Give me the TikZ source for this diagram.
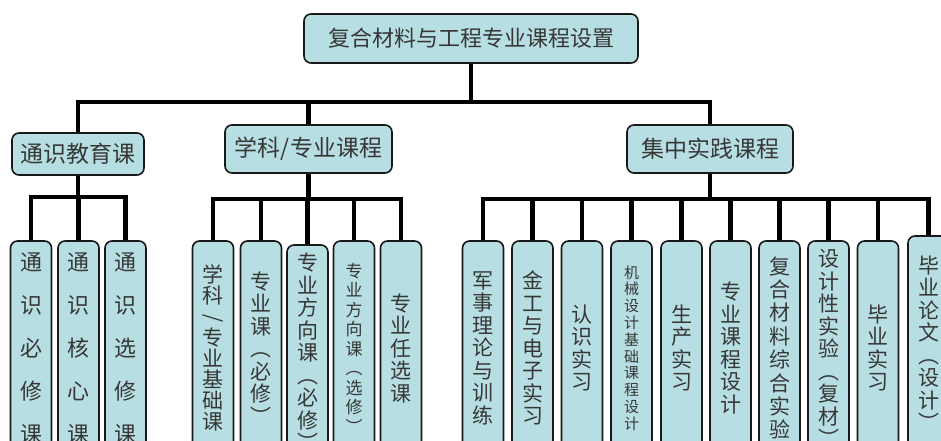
\documentclass[tikz,border=0pt]{standalone}
\usepackage{fontspec}
\usepackage{xcolor}
\newfontfamily\cjk{Noto Sans CJK SC}
\definecolor{boxfill}{RGB}{183,222,226}
\definecolor{ink}{RGB}{55,55,55}

\begin{document}
\begin{tikzpicture}[x=1pt,y=-1pt,
  box/.style={draw=black!90,line width=1.6pt,fill=boxfill,rounded corners=7pt,text=ink,inner sep=0pt,align=center},
  head/.style={box,font=\cjk\fontsize{23}{26}\selectfont},
  leaf/.style={box,minimum width=41pt,minimum height=214pt,font=\cjk\fontsize{21}{22.5}\selectfont},
  link/.style={line width=4.5pt}]
  \useasboundingbox (0,0) rectangle (941,441);
  \clip (0,0) rectangle (941,441);
  % top and second level
  \node[head,font=\cjk\fontsize{22}{26}\selectfont,minimum width=334pt,minimum height=49pt] (root) at (471,38.5) {复合材料与工程专业课程设置};
  \node[head,minimum width=132pt,minimum height=42pt] (gen) at (78,154) {通识教育课};
  \node[head,minimum width=167pt,minimum height=48pt] (disc) at (308.5,149) {学科/专业课程};
  \node[head,minimum width=166pt,minimum height=48pt] (prac) at (710,149) {集中实践课程};
  % general education
  \node[leaf,font=\cjk\fontsize{22}{43}\selectfont] (g1) at (31,348) {通\\识\\必\\修\\课};
  \node[leaf,font=\cjk\fontsize{22}{43}\selectfont] (g2) at (78.5,348) {通\\识\\核\\心\\课};
  \node[leaf,font=\cjk\fontsize{22}{43}\selectfont] (g3) at (125.5,348) {通\\识\\选\\修\\课};
  % discipline courses
  \node[leaf,font=\cjk\fontsize{21}{21}\selectfont] (d1) at (213,348) {学\\科\\\rotatebox[origin=c]{90}{/}\\专\\业\\基\\础\\课};
  \node[leaf] (d2) at (261,348) {专\\业\\课\\︵\\必\\修\\︶};
  \node[leaf] (d3) at (307.5,352) {专\\业\\方\\向\\课\\︵\\必\\修\\︶};
  \node[leaf,font=\cjk\fontsize{17}{19.5}\selectfont] (d4) at (354,348) {专\\业\\方\\向\\课\\︵\\选\\修\\︶};
  \node[leaf] (d5) at (401,348) {专\\业\\任\\选\\课};
  % practice courses
  \node[leaf] (p1) at (483,348) {军\\事\\理\\论\\与\\训\\练};
  \node[leaf] (p2) at (532.5,348) {金\\工\\与\\电\\子\\实\\习};
  \node[leaf] (p3) at (582,348) {认\\识\\实\\习};
  \node[leaf,font=\cjk\fontsize{15}{16.8}\selectfont] (p4) at (631.5,348) {机\\械\\设\\计\\基\\础\\课\\程\\设\\计};
  \node[leaf] (p5) at (681.5,348) {生\\产\\实\\习};
  \node[leaf] (p6) at (730.5,348) {专\\业\\课\\程\\设\\计};
  \node[leaf,font=\cjk\fontsize{21}{23.4}\selectfont] (p7) at (779.5,348) {复\\合\\材\\料\\综\\合\\实\\验};
  \node[leaf] (p8) at (828.5,348) {设\\计\\性\\实\\验\\︵\\复\\材\\︶};
  \node[leaf] (p9) at (878,348) {毕\\业\\实\\习};
  \node[leaf] (p10) at (928.5,343) {毕\\业\\论\\文\\︵\\设\\计\\︶};
  % connectors
  \foreach \c in {gen,disc,prac} \draw[link] (root.south) -- ++(0,38) -| (\c.north);
  \foreach \c in {g1,g2,g3} \draw[link] (gen.south) -- ++(0,21) -| (\c.north);
  \foreach \c in {d1,d2,d3,d4,d5} \draw[link] (disc.south) -- ++(0,25) -| (\c.north);
  \foreach \c in {p1,p2,p3,p4,p5,p6,p7,p8,p9,p10} \draw[link] (prac.south) -- ++(0,25) -| (\c.north);
\end{tikzpicture}
\end{document}
